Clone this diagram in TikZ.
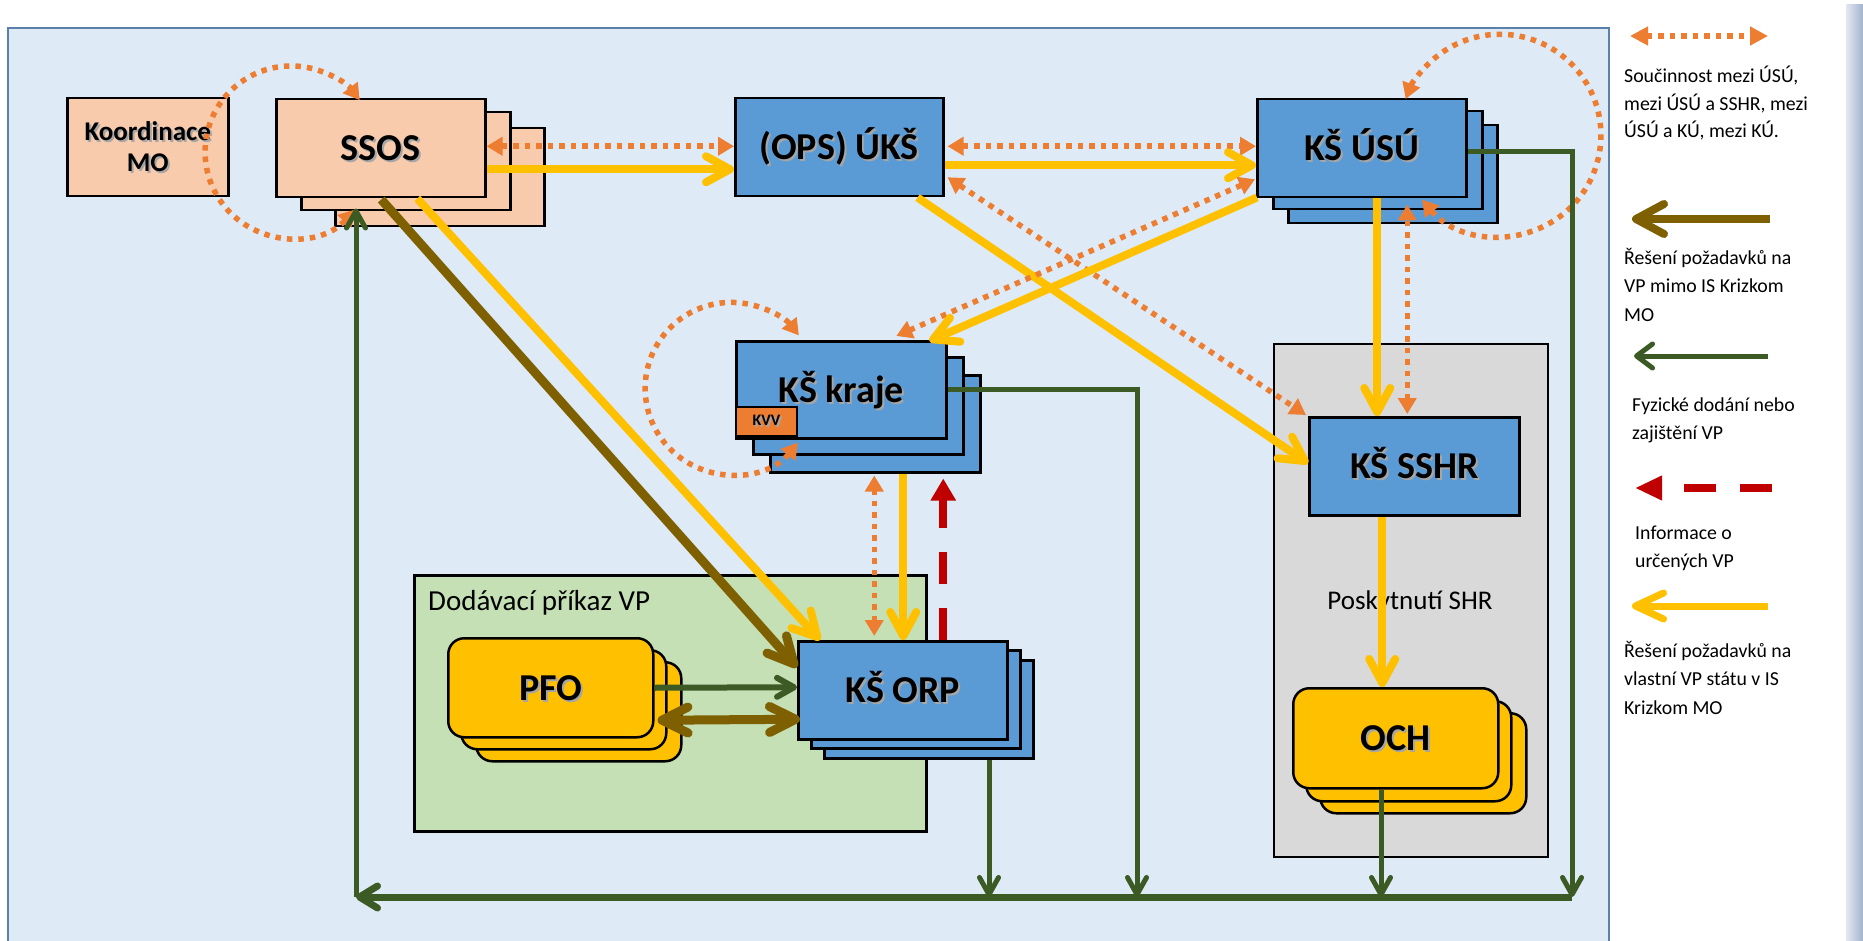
\documentclass[tikz,border=0pt]{standalone}
\usepackage{fontspec}
\setmainfont{Carlito}
\usetikzlibrary{arrows.meta,calc}
\definecolor{panelfill}{HTML}{DEEBF7}
\definecolor{panelline}{HTML}{5B80AA}
\definecolor{boxblue}{HTML}{5B9BD5}
\definecolor{peach}{HTML}{F8CBAD}
\definecolor{yellowC}{HTML}{FFC000}
\definecolor{orangeC}{HTML}{ED7D31}
\definecolor{brownC}{HTML}{7F6000}
\definecolor{greenC}{HTML}{3B5A24}
\definecolor{redC}{HTML}{C00000}
\definecolor{grayfill}{HTML}{D9D9D9}
\definecolor{greenfill}{HTML}{C5E0B4}
\definecolor{stripL}{HTML}{E3E8F0}
\definecolor{stripR}{HTML}{A3B3CE}
\newcommand\shd[1]{\leavevmode\rlap{\kern2pt\raisebox{-2pt}{\textcolor{black!35}{#1}}}#1}
\begin{document}
\begin{tikzpicture}[x=1pt,y=-1pt,
  box/.style={draw=black, line width=2.5pt, inner sep=0pt, anchor=north west},
  lbl/.style={font=\fontsize{38}{44}\selectfont\bfseries, text height=24.5pt, text depth=0pt},
  coop/.style={draw=orangeC, line width=5.5pt, dash pattern=on 5.5pt off 6pt,
    arrows={Triangle[length=16pt,width=18pt]-Triangle[length=16pt,width=18pt]}},
  yarr/.style={draw=yellowC, line width=8pt, arrows={-Straight Barb[length=24pt,width=26pt,round]}},
  barr/.style={draw=brownC, line width=9pt, arrows={-Straight Barb[length=26pt,width=26pt,round]}},
  barr2/.style={draw=brownC, line width=9pt, arrows={Straight Barb[length=26pt,width=26pt,round]-Straight Barb[length=26pt,width=26pt,round]}},
  garr/.style={draw=greenC, line width=5pt, arrows={-Straight Barb[length=17pt,width=19pt,round]}},
  rarr/.style={draw=redC, line width=8pt, dash pattern=on 32pt off 24pt, arrows={-Triangle[length=22pt,width=24pt]}},
  legtxt/.style={align=left, anchor=base west, inner sep=0pt}
]
\useasboundingbox (0,0) rectangle (1863,941);
\clip (0,0) rectangle (1863,941);
\fill[white] (0,0) rectangle (1863,941);
\filldraw[fill=panelfill, draw=panelline, line width=2pt] (8,28) rectangle (1609,960);
\shade[left color=stripL, right color=stripR] (1846,5) rectangle (1863,941);

% group boxes
\node[box, fill=greenfill, minimum width=512pt, minimum height=256pt] (dod) at (413,574) {};
\node[box, fill=grayfill, line width=2pt, minimum width=274pt, minimum height=513pt] (pos) at (1273,343) {};
\node[font=\fontsize{29}{34}\selectfont, anchor=base west, inner sep=0pt] (dodlbl) at (428,610) {Dodávací příkaz VP};
\node[font=\fontsize{27}{32}\selectfont, anchor=base, inner sep=0pt] (poslbl) at (1410,609) {Poskytnutí SHR};

% Koordinace MO
\node[box, fill=peach, minimum width=161pt, minimum height=98pt, align=center,
  font=\fontsize{27}{31}\selectfont\bfseries] (koord) at (66,97) {\shd{Koordinace}\\\shd{MO}};

% SSOS
\node[box, fill=peach, minimum width=209pt, minimum height=98pt] (ssos3) at (334,127) {};
\node[box, fill=peach, minimum width=209pt, minimum height=98pt] (ssos2) at (300,111) {};
\node[box, fill=peach, minimum width=209pt, minimum height=98pt, lbl] (ssos) at (275,98) {\shd{SSOS}};

% (OPS) UKS
\node[box, fill=boxblue, minimum width=208pt, minimum height=98pt, lbl] (uks) at (734,97) {\shd{(OPS) ÚKŠ}};

% KS USU
\node[box, fill=boxblue, minimum width=209pt, minimum height=98pt] (usu3) at (1287,124) {};
\node[box, fill=boxblue, minimum width=209pt, minimum height=98pt] (usu2) at (1272,110) {};
\node[box, fill=boxblue, minimum width=209pt, minimum height=98pt, lbl] (usu) at (1256,98) {\shd{KŠ ÚSÚ}};

% KS kraje
\node[box, fill=boxblue, minimum width=210pt, minimum height=97pt] (kraje3) at (769,374) {};
\node[box, fill=boxblue, minimum width=210pt, minimum height=97pt] (kraje2) at (752,356) {};
\node[box, fill=boxblue, minimum width=210pt, minimum height=97pt, lbl] (kraje) at (735,340) {\shd{KŠ kraje}};
\node[box, fill=orangeC, line width=2pt, minimum width=61pt, minimum height=29pt,
  font=\fontsize{16}{18}\selectfont\bfseries] (kvv) at (735,406) {\shd{KVV}};

% KS SSHR
\node[box, fill=boxblue, minimum width=210pt, minimum height=98pt, lbl] (sshr) at (1308,416) {\shd{KŠ SSHR}};

% OCH
\node[box, fill=yellowC, rounded corners=16pt, minimum width=206pt, minimum height=100pt] (och3) at (1319,712) {};
\node[box, fill=yellowC, rounded corners=16pt, minimum width=205pt, minimum height=100pt] (och2) at (1305,700) {};
\node[box, fill=yellowC, rounded corners=16pt, minimum width=205pt, minimum height=100pt, lbl] (och) at (1292,687) {\shd{OCH}};

% PFO
\node[box, fill=yellowC, rounded corners=16pt, minimum width=205pt, minimum height=99pt] (pfo3) at (475,661) {};
\node[box, fill=yellowC, rounded corners=16pt, minimum width=205pt, minimum height=99pt] (pfo2) at (460,649) {};
\node[box, fill=yellowC, rounded corners=16pt, minimum width=205pt, minimum height=99pt, lbl] (pfo) at (447,637) {\shd{PFO}};

% KS ORP
\node[box, fill=boxblue, minimum width=209pt, minimum height=98pt] (orp3) at (823,659) {};
\node[box, fill=boxblue, minimum width=209pt, minimum height=98pt] (orp2) at (810,649) {};
\node[box, fill=boxblue, minimum width=209pt, minimum height=98pt, lbl] (orp) at (797,640) {\shd{KŠ ORP}};

% ---- connectors ----
\draw[coop] ($(ssos.east)+(0,-2)$) -- ($(uks.west)+(0,-1)$);
\draw[yarr] ($(ssos.east)+(0,21)$) -- ($(uks.west)+(0,22)$);
\draw[coop] ($(uks.east)+(3,-1)$) -- ($(usu.west)+(0,-2)$);
\draw[yarr] ($(uks.east)+(0,18)$) -- ($(usu.west)+(0,17)$);

% self loops
\coordinate (ssosL) at ($(ssos.south west)+(80,11)$);
\draw[coop] (ssosL) arc[start angle=42, end angle=323, radius=86];
\coordinate (usuL) at ($(usu.south west)+(166,1)$);
\draw[coop] (usuL) arc[start angle=140.5, end angle=-159, radius=101];
\coordinate (krajeL) at ($(kraje.south west)+(63,3)$);
\draw[coop] (krajeL) arc[start angle=39, end angle=322, radius=86];

% diagonals
\draw[yarr] ($(uks.south east)+(-27,0)$) -- ($(sshr.west)+(0,-3)$);
\draw[coop] ($(uks.east)+(3,30)$) -- ($(sshr.north west)+(-2,-1)$);
\draw[coop] ($(usu.west)+(-1,31)$) -- ($(kraje.north)+(55,-4)$);
\draw[yarr] ($(usu.south west)+(1,-1)$) -- ($(kraje.north east)+(-18,1)$);
\draw[yarr] ($(ssos.south)+(36.5,0)$) -- ($(orp.north west)+(23,0)$);
\draw[barr] ($(ssos.south)+(0.5,1)$) -- ($(orp.west)+(0,-23)$);

% kraje <-> ORP
\draw[coop] ($(orp.north)+(-28.5,-4)$) -- ($(kraje3.south)+(-1,2)$);
\draw[yarr] ($(kraje3.south)+(28,0)$) -- ($(orp.north)+(0.5,0)$);
\draw[rarr] ($(orp.north)+(40.5,0)$) -- ($(kraje3.south)+(68,5)$);

% PFO <-> ORP
\draw[garr, line width=6pt] (pfo.east) -- ($(orp.west)+(0,-3)$);
\draw[barr2] ($(pfo.east)+(3,32.5)$) -- ($(orp.west)+(3,29)$);

% USU -> SSHR -> OCH
\draw[yarr] ($(usu.south)+(15.5,0)$) -- ($(sshr.north)+(-37,0)$);
\draw[coop] ($(sshr.north)+(-7,-2)$) -- ($(usu.south)+(45.5,6)$);
\draw[yarr] ($(sshr.south)+(-32,0)$) -- ($(och.north)+(-13.5,0)$);

% green delivery lines
\coordinate (bR) at (1572,897);
\coordinate (bK) at (1137,897);
\coordinate (bO) at (989,897);
\coordinate (bC) at (1381,897);
\coordinate (bL) at (356,897);
\draw[garr] ($(usu.east)+(0,3)$) -| (bR);
\draw[garr] (kraje.east) -| (bK);
\draw[garr] (orp3.south -| bO) -- (bO);
\draw[garr] (och.south -| bC) -- (bC);
\draw[garr, line width=7pt, arrows={-Straight Barb[length=18pt,width=22pt,round]}] (bR) -- (bL);
\draw[garr] (bL) -- ($(ssos2.south -| bL)+(0,-3)$);

% ---- legend ----
\coordinate (l1a) at (1630,36); \coordinate (l1b) at (1768,36);
\draw[coop, arrows={Triangle[length=18pt,width=18pt]-Triangle[length=18pt,width=18pt]}] (l1a) -- (l1b);
\node[legtxt, font=\fontsize{19.8}{27.5}\selectfont] (t1) at (1624,138) {Součinnost mezi ÚSÚ,\\mezi ÚSÚ a SSHR, mezi\\ÚSÚ a KÚ, mezi KÚ.};

\coordinate (l2a) at (1632,219); \coordinate (l2b) at (1770,219);
\draw[barr, line width=8pt, arrows={-Straight Barb[length=28pt,width=30pt,round]}] (l2b) -- (l2a);
\node[legtxt, font=\fontsize{19.8}{28.5}\selectfont] (t2) at (1624,321) {Řešení požadavků na\\VP mimo IS Krizkom\\MO};

\coordinate (l3a) at (1634,356); \coordinate (l3b) at (1768,356);
\draw[garr, line width=5pt, arrows={-Straight Barb[length=16pt,width=24pt,round]}] (l3b) -- (l3a);
\node[legtxt, font=\fontsize{19.8}{28}\selectfont] (t3) at (1632,439) {Fyzické dodání nebo\\zajištění VP};

\coordinate (l4a) at (1635,488); \coordinate (l4b) at (1772,488);
\draw[rarr, arrows={-Triangle[length=27pt,width=23pt]}] (l4b) -- (l4a);
\node[legtxt, font=\fontsize{19.8}{28}\selectfont] (t4) at (1635,567) {Informace o\\určených VP};

\coordinate (l5a) at (1632,606); \coordinate (l5b) at (1768,606);
\draw[yarr, line width=7pt, arrows={-Straight Barb[length=28pt,width=26pt,round]}] (l5b) -- (l5a);
\node[legtxt, font=\fontsize{19.8}{28.5}\selectfont] (t5) at (1624,714) {Řešení požadavků na\\vlastní VP státu v IS\\Krizkom MO};
\end{tikzpicture}
\end{document}
